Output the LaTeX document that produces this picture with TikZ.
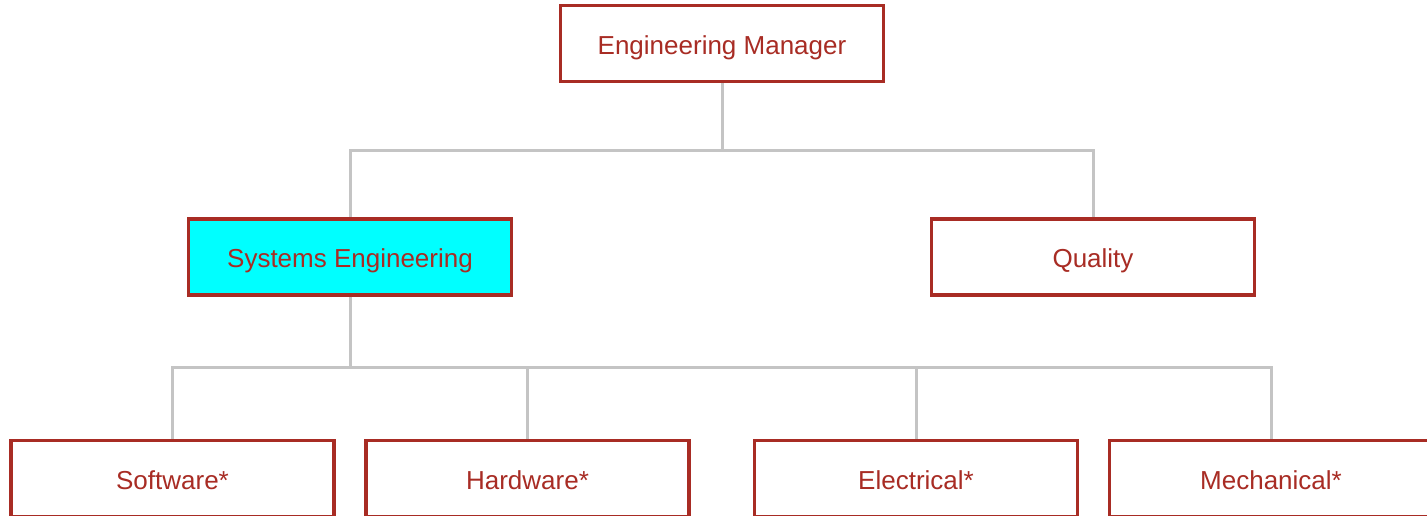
\documentclass[tikz,border=0pt]{standalone}
\usepackage{fontspec}
\setmainfont{Liberation Sans}
\definecolor{boxred}{RGB}{168,44,36}
\definecolor{linegray}{RGB}{196,196,196}
\definecolor{cyanfill}{RGB}{0,255,255}
\begin{document}
\begin{tikzpicture}[x=1pt,y=-1pt,
  orgbox/.style={draw=boxred, line width=3.5pt, fill=white, text=boxred,
    minimum width=323pt, minimum height=76pt, inner sep=0pt,
    text height=21pt, text depth=0pt,
    font=\fontsize{26}{30}\selectfont},
  conn/.style={draw=linegray, line width=3pt}]
\useasboundingbox (0,0) rectangle (1427,515);
\clip (0,0) rectangle (1427,515);
\node[orgbox] (mgr) at (722,43.5) {Engineering Manager};
\node[orgbox, fill=cyanfill] (sys) at (350,257) {Systems Engineering};
\node[orgbox] (qual) at (1093,257) {Quality};
\node[orgbox] (sw) at (172.5,478.5) {Software*};
\node[orgbox] (hw) at (527.5,478.5) {Hardware*};
\node[orgbox] (el) at (916,478.5) {Electrical*};
\node[orgbox] (me) at (1271,478.5) {Mechanical*};
\coordinate (j1) at (mgr.south |- 0,150);
\coordinate (j2) at (sys.south |- 0,367);
\draw[conn] (mgr.south) -- (j1);
\draw[conn] (j1) -| (sys.north);
\draw[conn] (j1) -| (qual.north);
\draw[conn] (sys.south) -- (j2);
\draw[conn] (j2) -| (sw.north);
\draw[conn] (j2) -| (hw.north);
\draw[conn] (j2) -| (el.north);
\draw[conn] (j2) -| (me.north);
\end{tikzpicture}
\end{document}
